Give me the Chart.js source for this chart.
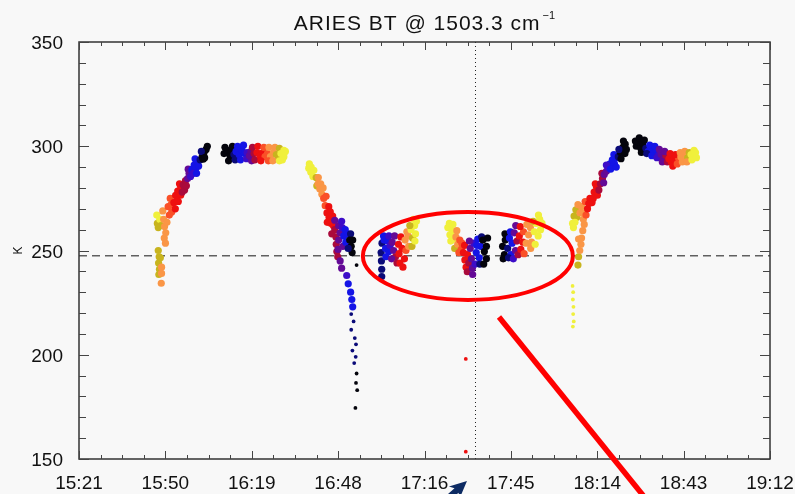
<!DOCTYPE html>
<html>
<head>
<meta charset="utf-8">
<script src="https://cdn.jsdelivr.net/npm/chart.js@4.4.1/dist/chart.umd.min.js"></script>
<style>
  html, body { margin: 0; padding: 0; background: #f8f8f8; }
  canvas { display: block; }
</style>
</head>
<body>
<canvas id="bt" width="795" height="494"></canvas>
<script>
// time axis in minutes after midnight (15:21 -> 19:12)
const timeStart = 921;
const timeEnd = 1152;
const xTickLabels = ['15:21', '15:50', '16:19', '16:48', '17:16', '17:45', '18:14', '18:43', '19:12'];
const yMin = 150;
const yMax = 350;
const yStep = 50;
const referenceK = 247.5;   // dashed line
const markerTime = 1053.4;  // dotted line

// colour table, index 0 = black ... 10 = yellow
const shades = ['#04040c', '#0a0a78', '#1414e6', '#3c0cc8', '#640a96', '#aa0a3c',
  '#ee1010', '#fa5028', '#fa9646', '#c8b41e', '#f0f03c'];

// [minutes, K, shade]
const riseEarly = [
  [947.5, 250, 9], [947.8, 247, 9], [947.6, 244, 9], [947.9, 241, 9], [947.7, 238.5, 9],
  [948.6, 242, 8], [948.6, 239, 8], [948.5, 234.3, 8], [948.2, 246.5, 9],
  [949.5, 256, 8], [949.9, 253.5, 8],
  [947, 267, 10], [947.2, 263, 9], [948, 265, 10], [948.5, 262, 9], [947.5, 261, 9],
  [949, 269, 8], [949.3, 265, 8], [949.6, 261.5, 8], [950, 258.5, 8], [950.4, 263.5, 8],
  [950.8, 271, 7], [951.2, 267, 7], [951.8, 272, 7], [951.5, 275, 7], [952, 268.5, 7],
  [952.7, 273, 6], [953.3, 276.5, 6], [953.2, 270, 6], [954, 278.5, 6], [954.2, 273.5, 6], [955, 280.5, 6], [955, 276.5, 6],
  [953.8, 274, 6], [954.6, 282, 6],
  [955.8, 281.5, 5], [956.3, 279, 5], [956.6, 283.5, 5], [955.5, 278, 5], [956.9, 281, 5],
  [957.3, 284.5, 4], [957.8, 287, 4], [958.3, 285.5, 3], [957.5, 289, 4], [958.5, 288.5, 3],
  [958.9, 289, 2], [959.5, 291, 2], [960.1, 289.5, 2], [960.6, 292.5, 2], [959.2, 287, 3],
  [959.8, 294, 2], [960.3, 287, 2], [961, 290.5, 2],
  [961.5, 293.5, 1], [962.2, 295, 0], [962.8, 297, 0], [963.5, 298.5, 0], [962.5, 293.8, 0],
  [961.9, 297.5, 1], [963, 294.5, 0], [963.9, 300, 0]
];
const plateauEarly = [
  [969.5, 296.5, 0], [970.5, 298, 0], [971.5, 295.5, 0], [972, 297.5, 0], [972.8, 296, 1],
  [969.8, 299.5, 0], [971, 293, 0], [972.3, 300, 0], [973.2, 293.5, 1],
  [973.5, 297.5, 2], [974.5, 296, 2], [975.5, 298, 2], [976.3, 296.5, 2], [977.2, 297, 3],
  [974, 300, 2], [975, 293.5, 2], [976, 300.5, 2], [977, 294, 3],
  [978, 295.5, 4], [978.7, 293, 4], [978.5, 297.5, 4], [979.5, 296.5, 5], [979, 299.5, 5], [979.8, 293.5, 5],
  [980.5, 297, 6], [981.5, 295.5, 6], [982.5, 297, 6], [983.2, 295, 7],
  [980.8, 300, 6], [981.8, 293, 6], [982.8, 299.5, 7],
  [984, 296.5, 7], [985, 295, 8], [986, 297, 8], [987, 296, 9], [987.5, 294, 9],
  [984.5, 299.5, 8], [984.3, 293, 7], [985.8, 293, 8], [986.5, 299.5, 8], [988, 299, 9],
  [988.5, 296.5, 10], [989.5, 295, 10], [989.5, 298, 10], [988, 293, 10], [989, 293.5, 10], [990, 297.5, 10]
];
const fallEarly = [
  [997.8, 289.5, 10], [998.5, 287.5, 10], [999.2, 285.5, 10], [998.6, 290, 10], [1000.3, 285, 9],
  [998, 291.5, 10], [999.5, 288.5, 10], [1000.5, 281, 9],
  [1000.9, 282, 8], [1001.5, 279.5, 8], [1002.2, 277, 8], [1001.8, 282, 8], [1001, 285, 8], [1002.6, 280, 8],
  [1002.8, 275, 7], [1003.3, 271.5, 7], [1003.6, 276, 7],
  [1003.9, 268, 6], [1004.6, 266, 6], [1005.3, 263, 6], [1004.5, 271, 6], [1005.8, 266.5, 6],
  [1004, 263.5, 6], [1005, 268.5, 6], [1006, 262, 6],
  [1006.5, 260, 5], [1006.9, 256.5, 5], [1007, 253, 5], [1007.2, 249.5, 5], [1007.5, 247, 5], [1005.5, 258, 5],
  [1006.5, 264.5, 4], [1007.8, 262, 4], [1008.3, 258.5, 4], [1007.8, 255, 4], [1009.2, 252, 4], [1007.6, 250.5, 4],
  [1009, 261, 3], [1009.5, 257, 2], [1010.2, 254, 2], [1010.8, 258, 2], [1008.8, 264, 3], [1010, 260, 2],
  [1011.8, 258, 1], [1011.5, 255, 0], [1012, 252, 0], [1012.3, 249, 0], [1011, 251, 1], [1012.5, 255, 0],
  [1008.3, 245, 4], [1008.8, 241.5, 4],
  [1010.5, 238, 3], [1011, 234, 2], [1011.8, 230, 2], [1012.2, 226.5, 2], [1012.5, 223, 2]
];
const fallTail = [
  [1013.8, 243, 0],
  [1012, 219.5, 1], [1012.8, 216, 1], [1012, 212, 1], [1013.2, 208, 1], [1013.6, 205, 1],
  [1012.4, 202, 1], [1013.5, 199, 1], [1013, 196, 1],
  [1013.8, 191, 0], [1013.6, 186.5, 0], [1014, 183, 0], [1013.4, 174.5, 0]
];
const circledLeft = [
  [1022, 249, 1], [1022.1, 245, 1], [1022.2, 241, 1], [1022.2, 237.5, 1],
  [1022.3, 253.5, 1], [1023, 255, 2], [1023.5, 251, 2], [1024.2, 254.5, 2], [1024.5, 249.5, 2], [1025, 252.5, 3],
  [1022.8, 257, 2], [1023.6, 247, 2], [1024.6, 257, 3],
  [1025.7, 254, 4], [1026.2, 250, 4], [1026.8, 247, 5], [1025.5, 246, 4], [1026.5, 257, 4], [1027.3, 244, 5],
  [1027.8, 253, 6], [1028, 248.5, 6], [1028.3, 244, 6], [1029, 251, 6], [1029.3, 242, 6], [1028.6, 256.5, 6], [1029.8, 246, 6],
  [1030, 255, 8], [1030.3, 250, 7], [1031, 257, 8], [1031.2, 252, 8], [1030.6, 259, 8],
  [1032, 260, 10], [1032.5, 256, 9], [1033.2, 262, 10], [1033.5, 258, 10], [1033.8, 264, 10],
  [1031.6, 262, 9], [1032.3, 252, 9], [1032.8, 265, 10], [1033.3, 254.5, 10]
];
const circledMid = [
  [1044.3, 261, 10], [1045, 257.5, 10], [1045.7, 259.5, 10], [1046.3, 255.5, 10],
  [1044.8, 263, 10], [1045.3, 254.5, 10], [1046, 262.5, 10], [1046.6, 251, 9],
  [1047, 256.5, 8], [1047.6, 253, 8], [1048.3, 255, 7], [1048.8, 250.5, 7], [1047.3, 259.5, 8], [1048, 249, 7], [1049, 253.5, 7],
  [1049.5, 249, 6], [1050, 245.5, 6], [1050.4, 242, 6], [1050.9, 248, 6], [1050.8, 239.8, 5], [1049.9, 252.5, 6], [1051.3, 244, 5],
  [1051.8, 251, 4], [1052.2, 246, 4], [1052.5, 241.5, 4], [1053, 253.5, 3], [1052.6, 238.5, 4], [1051.5, 254.5, 4], [1053.4, 243.5, 3],
  [1053.8, 249, 2], [1054.3, 255.5, 2], [1054.8, 246.5, 2], [1055.3, 252, 2], [1054, 252.5, 2],
  [1055, 243.5, 1], [1055.6, 256.5, 1],
  [1056, 255, 0], [1056.5, 249.5, 0], [1057.2, 252, 0], [1057.2, 246, 0], [1056.3, 243.5, 0], [1057.6, 256, 0]
];
const circledRight = [
  [1062.6, 252, 0], [1063.2, 248, 0], [1063.5, 255, 0], [1062.8, 246, 0], [1063.4, 258, 0],
  [1064.3, 251, 1], [1064.9, 256, 2], [1065.4, 248, 2], [1065.8, 253.5, 2], [1064.6, 246.5, 1], [1065.2, 259, 2],
  [1066.5, 258.5, 4], [1066.9, 250, 4], [1067.4, 254.5, 5], [1066.2, 246, 3], [1067, 262, 4], [1067.8, 248, 5],
  [1068.2, 257, 6], [1068.7, 250.5, 6], [1069.4, 254, 6], [1069.6, 259, 7], [1068.5, 261.5, 6], [1069.8, 248.5, 7],
  [1070.5, 253.5, 8], [1071.3, 257.5, 8], [1071.9, 261, 8], [1072.3, 254, 8], [1070.7, 262.5, 8], [1072, 251, 8],
  [1073.2, 259, 10], [1073.8, 263, 10], [1074.5, 257, 10], [1075, 265, 10], [1075.3, 260, 10],
  [1072.8, 264, 9], [1073.5, 253, 10], [1074.6, 267, 10], [1075.8, 263, 10]
];
const strayDots = [
  [1050.3, 198, 6], [1050.3, 153.5, 6],
  [1086, 233, 10], [1086.2, 230, 10], [1086.1, 226.5, 10], [1086.3, 223, 10],
  [1086.2, 219.5, 10], [1086.4, 216, 10], [1086.1, 213.5, 10]
];
const riseLate = [
  [1087.8, 243, 9], [1088, 247, 9], [1088.4, 250, 8], [1088.8, 253, 8], [1088, 255.5, 8],
  [1089, 256, 8], [1089.4, 259.5, 8], [1089.9, 262.5, 8], [1089.6, 265, 8],
  [1086, 263, 10], [1086.5, 266.5, 9], [1087.1, 269.5, 9], [1087.8, 272, 8], [1086.3, 261, 10],
  [1087.4, 266, 9], [1086.8, 263.5, 10], [1088.5, 268, 8],
  [1089, 271, 8], [1089.6, 268, 8], [1090.2, 273.5, 7], [1090.5, 267, 7],
  [1091, 270, 6], [1091.8, 275, 6], [1092.5, 273, 6], [1093.2, 278, 6], [1094, 280.5, 6], [1094.3, 276.5, 6],
  [1091.4, 272.5, 6], [1092.9, 275, 6], [1093.6, 282, 6],
  [1095.3, 282, 5], [1096, 284.5, 5], [1094.8, 279, 5], [1095.8, 287, 5],
  [1096.6, 286.5, 4], [1097.3, 288, 4], [1096.4, 282.5, 4],
  [1097.8, 290, 3], [1098.5, 291.5, 2], [1099.3, 293.5, 2], [1100, 291.5, 2], [1100.6, 294.5, 2],
  [1097.3, 291, 3], [1098.7, 289, 2], [1099.8, 296, 2], [1100.6, 290, 2],
  [1101.3, 295, 1], [1102, 297, 0], [1102.8, 299.5, 0], [1103.6, 301, 0], [1103.5, 296.5, 0],
  [1101.5, 298.5, 1], [1102.2, 294, 0], [1103, 302.5, 0], [1104, 298.5, 0]
];
const plateauLate = [
  [1107.3, 300, 0], [1108, 302, 0], [1108.8, 299, 0], [1109.5, 301.5, 0],
  [1107, 302.5, 0], [1108.3, 304, 0], [1109, 297, 0], [1110, 303, 0],
  [1110.5, 299, 1], [1111.3, 297.5, 2], [1112.2, 299, 2], [1113, 296.5, 2], [1113.9, 298, 2], [1114.7, 295.5, 3],
  [1110.8, 296.5, 1], [1111.8, 300.5, 2], [1112.5, 295.5, 2], [1113.5, 300, 2], [1114.2, 294.5, 3],
  [1115.6, 296, 4], [1116.4, 294, 4], [1117.2, 295.5, 5], [1115, 298.5, 4], [1116, 292.5, 4], [1116.8, 297.5, 4], [1117.7, 292.5, 5],
  [1118.2, 294, 6], [1119, 292.5, 6], [1119.8, 294, 6], [1120.6, 293, 6], [1121.4, 294.5, 7],
  [1118.6, 296.5, 6], [1119.5, 290.5, 6], [1120.4, 296, 6], [1121, 291.5, 7],
  [1122.2, 295, 8], [1123, 293.5, 8], [1123.8, 296, 8], [1124.5, 294.5, 9],
  [1122, 297, 8], [1122.7, 292.5, 8], [1123.5, 297.5, 8], [1124.2, 292.5, 8], [1125, 297, 9],
  [1125.6, 296, 10], [1126.4, 294.5, 10], [1127.1, 297, 10], [1126.6, 298, 10],
  [1125.9, 293.5, 10], [1126.8, 296.5, 10], [1127.4, 294.5, 10]
];

const toPoints = rows => rows.map(([x, y, c]) => ({ x, y, c }));
const bandRows = [].concat(riseEarly, plateauEarly, fallEarly, circledLeft, circledMid, circledRight, riseLate, plateauLate);
const dotRows = [].concat(fallTail, strayDots);

const frame = {
  id: 'frame',
  beforeDatasetsDraw(chart) {
    const { ctx, chartArea: a, scales: { x, y } } = chart;
    ctx.save();
    // dashed reference level
    ctx.strokeStyle = '#606060';
    ctx.lineWidth = 1.5;
    ctx.setLineDash([8, 5]);
    const yr = y.getPixelForValue(referenceK);
    ctx.beginPath();
    ctx.moveTo(a.left, yr);
    ctx.lineTo(a.right, yr);
    ctx.stroke();
    // dotted time marker
    ctx.strokeStyle = '#222';
    ctx.lineWidth = 1;
    ctx.setLineDash([1, 3]);
    const xm = Math.round(x.getPixelForValue(markerTime)) + 0.5;
    ctx.beginPath();
    ctx.moveTo(xm, a.top);
    ctx.lineTo(xm, a.bottom);
    ctx.stroke();
    ctx.restore();
  },
  afterDatasetsDraw(chart) {
    const { ctx, chartArea: a, scales: { x, y } } = chart;
    ctx.save();
    ctx.strokeStyle = '#333';
    ctx.lineWidth = 1.5;
    ctx.strokeRect(a.left, a.top, a.right - a.left, a.bottom - a.top);

    // inward ticks on all four sides
    ctx.lineWidth = 1;
    ctx.strokeStyle = '#444';
    const xStep = (timeEnd - timeStart) / (xTickLabels.length - 1);
    for (let i = 0; i <= (xTickLabels.length - 1) * 4; i++) {
      const px = Math.round(x.getPixelForValue(timeStart + i * xStep / 4)) + 0.5;
      const len = i % 4 === 0 ? 8 : 4;
      ctx.beginPath();
      ctx.moveTo(px, a.bottom); ctx.lineTo(px, a.bottom - len);
      ctx.moveTo(px, a.top); ctx.lineTo(px, a.top + len);
      ctx.stroke();
    }
    for (let v = yMin; v <= yMax; v += 10) {
      const py = Math.round(y.getPixelForValue(v)) + 0.5;
      const len = v % yStep === 0 ? 10 : 7;
      ctx.beginPath();
      ctx.moveTo(a.left, py); ctx.lineTo(a.left + len, py);
      ctx.moveTo(a.right, py); ctx.lineTo(a.right - len, py);
      ctx.stroke();
    }
    ctx.restore();
  },
  afterDraw(chart) {
    const { ctx, chartArea: a, scales: { x, y } } = chart;
    ctx.save();

    // title with superscript
    const main = 'ARIES BT @ 1503.3 cm';
    const sup = '\u22121';
    ctx.fillStyle = '#111';
    ctx.textBaseline = 'alphabetic';
    ctx.font = '21px "Liberation Sans"';
    ctx.letterSpacing = '1px';
    const wMain = ctx.measureText(main).width;
    ctx.font = '11px "Liberation Sans"';
    ctx.letterSpacing = '0px';
    const wSup = ctx.measureText(sup).width;
    const x0 = (a.left + a.right) / 2 - (wMain + 2 + wSup) / 2;
    ctx.font = '21px "Liberation Sans"';
    ctx.letterSpacing = '1px';
    ctx.fillText(main, x0, 30);
    ctx.font = '11px "Liberation Sans"';
    ctx.letterSpacing = '0px';
    ctx.fillText(sup, x0 + wMain + 2, 19);

    // red ellipse round the middle clusters
    ctx.strokeStyle = '#ff0000';
    ctx.lineWidth = 4;
    const cx = x.getPixelForValue(1051);
    const cy = y.getPixelForValue(247.4);
    const rx = x.getPixelForValue(1051 + 35.1) - cx;
    const ry = cy - y.getPixelForValue(247.4 + 21.1);
    ctx.beginPath();
    ctx.ellipse(cx, cy, rx, ry, 0, 0, Math.PI * 2);
    ctx.stroke();

    // red pointer line
    ctx.lineWidth = 5.5;
    ctx.beginPath();
    ctx.moveTo(x.getPixelForValue(1061.4), y.getPixelForValue(218.1));
    ctx.lineTo(x.getPixelForValue(1109.6), y.getPixelForValue(132.5));
    ctx.stroke();

    // navy arrow at the bottom edge
    const tipX = x.getPixelForValue(1050.7), tipY = y.getPixelForValue(139.4);
    const tailX = x.getPixelForValue(1043.2), tailY = y.getPixelForValue(129.8);
    const ang = Math.atan2(tipY - tailY, tipX - tailX);
    ctx.translate(tipX, tipY);
    ctx.rotate(ang);
    ctx.fillStyle = '#0d2b63';
    ctx.beginPath();
    ctx.moveTo(0, 0);
    ctx.lineTo(-17, -8);
    ctx.lineTo(-14, -3);
    ctx.lineTo(-40, -3);
    ctx.lineTo(-40, 3);
    ctx.lineTo(-14, 3);
    ctx.lineTo(-17, 8);
    ctx.closePath();
    ctx.fill();
    ctx.restore();
  }
};

new Chart(document.getElementById('bt'), {
  type: 'scatter',
  data: {
    datasets: [
      {
        label: 'BT',
        data: toPoints(bandRows),
        backgroundColor: c => shades[c.raw ? c.raw.c : 0],
        borderWidth: 0,
        pointRadius: 3.6,
        pointHoverRadius: 3.6
      },
      {
        label: 'BT sparse',
        data: toPoints(dotRows),
        backgroundColor: c => shades[c.raw ? c.raw.c : 0],
        borderWidth: 0,
        pointRadius: 1.9,
        pointHoverRadius: 1.9
      }
    ]
  },
  options: {
    responsive: false,
    devicePixelRatio: 1,
    animation: false,
    layout: { padding: { top: 42, right: 25, bottom: 0, left: 0 } },
    plugins: {
      legend: { display: false },
      tooltip: { enabled: false },
      title: { display: false }
    },
    scales: {
      x: {
        type: 'linear',
        min: timeStart,
        max: timeEnd,
        grid: { display: false },
        border: { display: false },
        afterBuildTicks: s => {
          const step = (timeEnd - timeStart) / (xTickLabels.length - 1);
          s.ticks = xTickLabels.map((_, i) => ({ value: timeStart + i * step }));
        },
        afterFit: s => { s.height = 35; s.paddingLeft = 0; s.paddingRight = 0; },
        ticks: {
          autoSkip: false,
          maxRotation: 0,
          padding: 5,
          color: '#111',
          font: { family: 'Liberation Sans', size: 19 },
          callback: (v, i) => xTickLabels[i]
        }
      },
      y: {
        min: yMin,
        max: yMax,
        grid: { display: false },
        border: { display: false },
        afterFit: s => { s.width = 79; s.paddingTop = 0; s.paddingBottom = 0; },
        title: {
          display: true,
          text: 'K',
          color: '#111',
          font: { family: 'Liberation Sans', size: 12 },
          padding: { top: 11, bottom: 0 }
        },
        ticks: {
          stepSize: yStep,
          padding: 8,
          labelOffset: 2,
          color: '#111',
          font: { family: 'Liberation Sans', size: 19 }
        }
      }
    }
  },
  plugins: [frame]
});
</script>
</body>
</html>
